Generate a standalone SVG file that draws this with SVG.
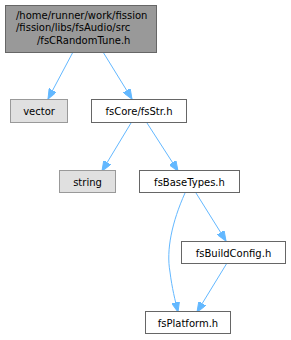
<svg xmlns="http://www.w3.org/2000/svg" width="291" height="340" viewBox="0 0 291 340">
<style>
.n rect{stroke-width:1}
.main rect{fill:#999999;stroke:#666666}
.sys rect{fill:#e0e0e0;stroke:#999999}
.loc rect{fill:#ffffff;stroke:#666666}
text{font-family:"DejaVu Sans",sans-serif;font-size:10px;fill:#000000;text-anchor:middle}
.main text{text-anchor:start}
.e{fill:none;stroke:#63b8ff;stroke-width:1}
</style>
<defs>
<marker id="ah" viewBox="0 0 10 8" refX="10" refY="4" markerWidth="10" markerHeight="8" markerUnits="userSpaceOnUse" orient="auto">
<path d="M0,0 L10,4 L0,8 Z" fill="#63b8ff" stroke="#63b8ff" stroke-width="1"/>
</marker>
</defs>
<rect width="291" height="340" fill="#ffffff"/>
<g id="connectors">
<path class="e" d="M73,52 L48,99" marker-end="url(#ah)"/>
<path class="e" d="M103,52 L132,99" marker-end="url(#ah)"/>
<path class="e" d="M131,123 L102,171" marker-end="url(#ah)"/>
<path class="e" d="M147,123 L178,171" marker-end="url(#ah)"/>
<path class="e" d="M196,193 L226,241" marker-end="url(#ah)"/>
<path class="e" d="M185,193 C172,222 166,250 170,272 C172,288 175,300 178,312" marker-end="url(#ah)"/>
<path class="e" d="M227,263 L197,312" marker-end="url(#ah)"/>
</g>
<g id="node1" class="n main">
<rect x="5.5" y="5.5" width="151" height="47"/>
<text x="16" y="19">/home/runner/work/fission</text>
<text x="16" y="31">/fission/libs/fsAudio/src</text>
<text x="37" y="44">/fsCRandomTune.h</text>
</g>
<g id="node2" class="n sys">
<rect x="10.5" y="99.5" width="57" height="23"/>
<text x="39" y="115">vector</text>
</g>
<g id="node3" class="n loc">
<rect x="91.5" y="99.5" width="95" height="23"/>
<text x="139" y="115">fsCore/fsStr.h</text>
</g>
<g id="node4" class="n sys">
<rect x="59.5" y="170.5" width="56" height="22"/>
<text x="87.5" y="186">string</text>
</g>
<g id="node5" class="n loc">
<rect x="139.5" y="170.5" width="100" height="22"/>
<text x="189.5" y="186">fsBaseTypes.h</text>
</g>
<g id="node6" class="n loc">
<rect x="181.5" y="241.5" width="104" height="22"/>
<text x="233.5" y="257">fsBuildConfig.h</text>
</g>
<g id="node7" class="n loc">
<rect x="145.5" y="311.5" width="85" height="22"/>
<text x="188" y="327">fsPlatform.h</text>
</g>
</svg>
